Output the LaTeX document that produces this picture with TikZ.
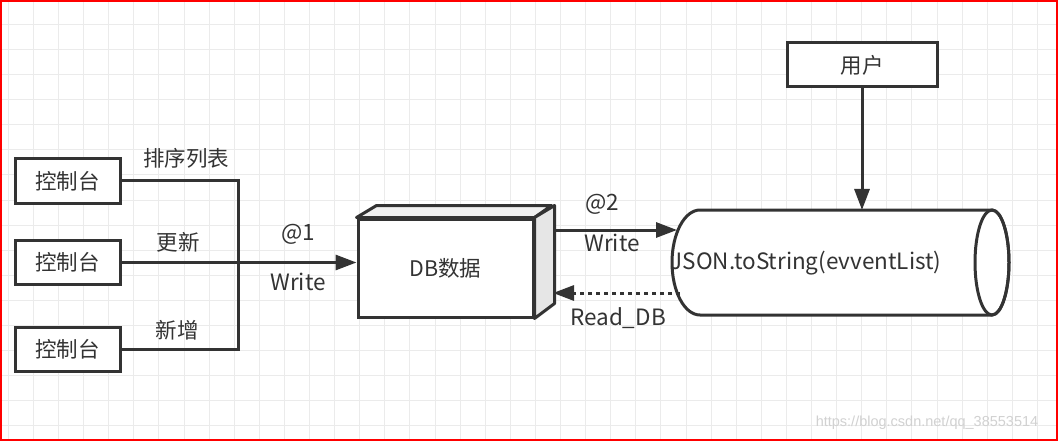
\documentclass[tikz,border=0pt]{standalone}
\usepackage{fontspec}
\setmainfont{Noto Sans CJK SC}
\newfontfamily\wmfont{Liberation Sans}
\usetikzlibrary{arrows.meta}
\definecolor{dk}{HTML}{333333}
\definecolor{gridc}{HTML}{EBEBEB}
\definecolor{sidec}{HTML}{E6E6E6}
\definecolor{topc}{HTML}{F0F0F0}
\begin{document}
\begin{tikzpicture}[x=1pt,y=-1pt,
  box/.style={draw=dk, line width=3pt, fill=white, inner sep=0pt, font=\fontsize{21.5}{25}\selectfont, text=dk},
  lbl/.style={font=\fontsize{21.5}{25}\selectfont, text=dk, inner sep=0pt},
  latlbl/.style={font=\fontsize{22.5}{26}\selectfont, text=dk, inner sep=0pt},
  conn/.style={draw=dk, line width=3pt},
  arr/.style={conn, -{Triangle[length=21pt,width=15pt]}},
  dotarr/.style={arr, dash pattern=on 4pt off 4pt}]
\useasboundingbox (0,0) rectangle (1058,441);
\fill[white] (0,0) rectangle (1058,441);
% grid
\foreach \i in {0,...,42} {\draw[gridc, line width=1pt] ({8.3+25.1*\i},0) -- ({8.3+25.1*\i},441);}
\foreach \j in {1,...,17} {\draw[gridc, line width=1pt] (0,{25*\j}) -- (1058,{25*\j});}
\draw[red, line width=2pt] (1,1) rectangle (1057,440);
% watermark
\node[font=\wmfont\fontsize{14.5}{17}\selectfont, text=black!18, inner sep=0pt] (wm) at (927,423) {https://blog.csdn.net/qq\_38553514};

% consoles
\node[box, minimum width=105pt, minimum height=44pt] (c1) at (67.5,181) {控制台};
\node[box, minimum width=105pt, minimum height=44pt] (c2) at (67.5,262.5) {控制台};
\node[box, minimum width=105pt, minimum height=44pt] (c3) at (67.5,349.5) {控制台};

% DB box (3D)
\node[box, minimum width=175pt, minimum height=98pt] (db) at (445.5,268) {DB数据};
\draw[draw=dk, line width=3pt, fill=topc, line join=round]
  (db.north west) -- ++(20,-12) -- ++(175,0) -- (db.north east) -- cycle;
\draw[draw=dk, line width=3pt, fill=sidec, line join=round]
  (db.north east) -- ++(20,-12) -- ++(0,98) -- (db.south east) -- cycle;
\coordinate (dbR1) at (553,230);
\coordinate (dbR2) at (553,293);

% user
\node[box, minimum width=150pt, minimum height=44pt] (user) at (862,65) {用户};

% cylinder
\draw[draw=dk, line width=3pt, fill=white]
  (992,210) -- (700,210) arc[start angle=-90, end angle=-270, x radius=28, y radius=52.5]
  -- (992,315) arc[start angle=90, end angle=-90, x radius=17, y radius=52.5];
\draw[draw=dk, line width=3pt] (992,262.5) ellipse[x radius=17, y radius=52.5];
\node[latlbl] (cyl) at (806,263) {JSON.toString(evventList)};
\coordinate (cylL1) at (677,230);
\coordinate (cylL2) at (680,293);
\coordinate (cylTop) at (862,210);

% connectors
\coordinate (jc) at (238,349.5);
\draw[conn, line join=miter] (c1.east) -| (jc) -- (c3.east);
\draw[arr] (c2.east) -- (c2.east -| db.west);
\draw[arr] (dbR1) -- (cylL1);
\draw[dotarr] (cylL2) -- (dbR2);
\draw[arr] (user.south) -- (cylTop);

% labels
\node[lbl] (l1) at (186,158) {排序列表};
\node[lbl] (l2) at (178,242) {更新};
\node[lbl] (l3) at (177,330) {新增};
\node[latlbl] (l4) at (298,234) {@1};
\node[latlbl] (l5) at (298,282) {Write};
\node[latlbl] (l6) at (602,204) {@2};
\node[latlbl] (l7) at (612,243) {Write};
\node[latlbl] (l8) at (618,318) {Read\_DB};
\end{tikzpicture}
\end{document}
